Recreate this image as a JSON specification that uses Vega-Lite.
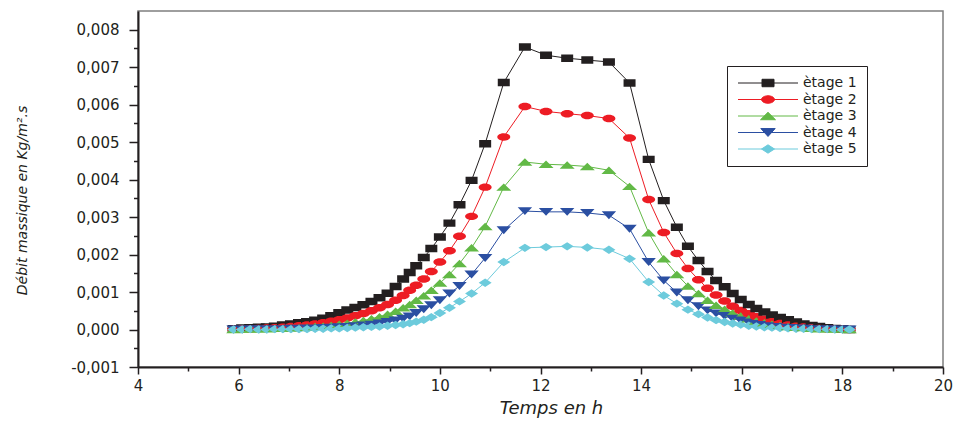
{
  "$schema": "https://vega.github.io/schema/vega-lite/v6.json",
  "width": 805,
  "height": 356,
  "autosize": {"type": "none"},
  "padding": {"left": 138, "top": 11, "right": 13, "bottom": 54},
  "background": "#ffffff",
  "config": {
    "view": {"stroke": "#7f7f7f", "strokeWidth": 1.5},
    "axis": {
      "domainColor": "#231f20", "domainWidth": 2, "tickColor": "#231f20", "tickWidth": 1.5,
      "labelColor": "#231f20", "titleColor": "#231f20", "grid": false,
      "labelFont": "DejaVu Sans", "titleFont": "DejaVu Sans", "titleFontWeight": "normal", "titleFontStyle": "italic"
    }
  },
  "data": {"values": [
    {"t": 5.90, "ètage 1": 0.00002, "ètage 2": 0.00001, "ètage 3": 0, "ètage 4": 0, "ètage 5": 0},
    {"t": 6.07, "ètage 1": 0.00004, "ètage 2": 0.00002, "ètage 3": 0.00001, "ètage 4": 0, "ètage 5": 0},
    {"t": 6.23, "ètage 1": 0.00005, "ètage 2": 0.00002, "ètage 3": 0.00001, "ètage 4": 0.00001, "ètage 5": 0.00001},
    {"t": 6.40, "ètage 1": 0.00006, "ètage 2": 0.00003, "ètage 3": 0.00002, "ètage 4": 0.00001, "ètage 5": 0},
    {"t": 6.56, "ètage 1": 0.00007, "ètage 2": 0.00004, "ètage 3": 0.00002, "ètage 4": 0.00001, "ètage 5": 0},
    {"t": 6.72, "ètage 1": 0.00009, "ètage 2": 0.00005, "ètage 3": 0.00003, "ètage 4": 0.00001, "ètage 5": 0.00001},
    {"t": 6.88, "ètage 1": 0.00012, "ètage 2": 0.00006, "ètage 3": 0.00003, "ètage 4": 0.00001, "ètage 5": 0.00001},
    {"t": 7.04, "ètage 1": 0.00015, "ètage 2": 0.00008, "ètage 3": 0.00004, "ètage 4": 0.00002, "ètage 5": 0.00001},
    {"t": 7.20, "ètage 1": 0.00018, "ètage 2": 0.00010, "ètage 3": 0.00005, "ètage 4": 0.00002, "ètage 5": 0.00001},
    {"t": 7.36, "ètage 1": 0.00021, "ètage 2": 0.00012, "ètage 3": 0.00006, "ètage 4": 0.00003, "ètage 5": 0.00001},
    {"t": 7.52, "ètage 1": 0.00025, "ètage 2": 0.00015, "ètage 3": 0.00008, "ètage 4": 0.00003, "ètage 5": 0.00002},
    {"t": 7.68, "ètage 1": 0.00030, "ètage 2": 0.00018, "ètage 3": 0.00009, "ètage 4": 0.00004, "ètage 5": 0.00002},
    {"t": 7.84, "ètage 1": 0.00037, "ètage 2": 0.00022, "ètage 3": 0.00011, "ètage 4": 0.00005, "ètage 5": 0.00003},
    {"t": 8.00, "ètage 1": 0.00045, "ètage 2": 0.00026, "ètage 3": 0.00014, "ètage 4": 0.00006, "ètage 5": 0.00003},
    {"t": 8.16, "ètage 1": 0.00052, "ètage 2": 0.00031, "ètage 3": 0.00017, "ètage 4": 0.00007, "ètage 5": 0.00004},
    {"t": 8.32, "ètage 1": 0.00059, "ètage 2": 0.00037, "ètage 3": 0.00020, "ètage 4": 0.00009, "ètage 5": 0.00005},
    {"t": 8.48, "ètage 1": 0.00066, "ètage 2": 0.00043, "ètage 3": 0.00024, "ètage 4": 0.00011, "ètage 5": 0.00006},
    {"t": 8.64, "ètage 1": 0.00075, "ètage 2": 0.00050, "ètage 3": 0.00029, "ètage 4": 0.00013, "ètage 5": 0.00007},
    {"t": 8.80, "ètage 1": 0.00085, "ètage 2": 0.00058, "ètage 3": 0.00034, "ètage 4": 0.00016, "ètage 5": 0.00008},
    {"t": 8.96, "ètage 1": 0.00097, "ètage 2": 0.00067, "ètage 3": 0.00041, "ètage 4": 0.00020, "ètage 5": 0.00010},
    {"t": 9.12, "ètage 1": 0.00115, "ètage 2": 0.00078, "ètage 3": 0.00049, "ètage 4": 0.00024, "ètage 5": 0.00012},
    {"t": 9.27, "ètage 1": 0.00135, "ètage 2": 0.00091, "ètage 3": 0.00058, "ètage 4": 0.00029, "ètage 5": 0.00014},
    {"t": 9.40, "ètage 1": 0.00152, "ètage 2": 0.00105, "ètage 3": 0.00067, "ètage 4": 0.00035, "ètage 5": 0.00017},
    {"t": 9.53, "ètage 1": 0.00170, "ètage 2": 0.00118, "ètage 3": 0.00078, "ètage 4": 0.00044, "ètage 5": 0.00021},
    {"t": 9.68, "ètage 1": 0.00192, "ètage 2": 0.00135, "ètage 3": 0.00090, "ètage 4": 0.00054, "ètage 5": 0.00026},
    {"t": 9.83, "ètage 1": 0.00216, "ètage 2": 0.00155, "ètage 3": 0.00105, "ètage 4": 0.00065, "ètage 5": 0.00033},
    {"t": 10.00, "ètage 1": 0.00247, "ètage 2": 0.00180, "ètage 3": 0.00124, "ètage 4": 0.00078, "ètage 5": 0.00044},
    {"t": 10.19, "ètage 1": 0.00284, "ètage 2": 0.00210, "ètage 3": 0.00147, "ètage 4": 0.00096, "ètage 5": 0.00058},
    {"t": 10.39, "ètage 1": 0.00333, "ètage 2": 0.00249, "ètage 3": 0.00176, "ètage 4": 0.00116, "ètage 5": 0.00075},
    {"t": 10.63, "ètage 1": 0.00398, "ètage 2": 0.00302, "ètage 3": 0.00218, "ètage 4": 0.00147, "ètage 5": 0.00096},
    {"t": 10.90, "ètage 1": 0.00496, "ètage 2": 0.00380, "ètage 3": 0.00275, "ètage 4": 0.00191, "ètage 5": 0.00125},
    {"t": 11.27, "ètage 1": 0.00659, "ètage 2": 0.00514, "ètage 3": 0.00380, "ètage 4": 0.00265, "ètage 5": 0.00180},
    {"t": 11.69, "ètage 1": 0.00754, "ètage 2": 0.00595, "ètage 3": 0.00447, "ètage 4": 0.00316, "ètage 5": 0.00218},
    {"t": 12.11, "ètage 1": 0.00732, "ètage 2": 0.00582, "ètage 3": 0.00441, "ètage 4": 0.00314, "ètage 5": 0.00220},
    {"t": 12.53, "ètage 1": 0.00724, "ètage 2": 0.00576, "ètage 3": 0.00439, "ètage 4": 0.00314, "ètage 5": 0.00222},
    {"t": 12.93, "ètage 1": 0.00719, "ètage 2": 0.00571, "ètage 3": 0.00435, "ètage 4": 0.00311, "ètage 5": 0.00219},
    {"t": 13.36, "ètage 1": 0.00714, "ètage 2": 0.00563, "ètage 3": 0.00425, "ètage 4": 0.00305, "ètage 5": 0.00213},
    {"t": 13.77, "ètage 1": 0.00658, "ètage 2": 0.00511, "ètage 3": 0.00382, "ètage 4": 0.00269, "ètage 5": 0.00189},
    {"t": 14.15, "ètage 1": 0.00454, "ètage 2": 0.00347, "ètage 3": 0.00258, "ètage 4": 0.00180, "ètage 5": 0.00127},
    {"t": 14.45, "ètage 1": 0.00344, "ètage 2": 0.00259, "ètage 3": 0.00189, "ètage 4": 0.00131, "ètage 5": 0.00091},
    {"t": 14.71, "ètage 1": 0.00273, "ètage 2": 0.00203, "ètage 3": 0.00147, "ètage 4": 0.00099, "ètage 5": 0.00069},
    {"t": 14.93, "ètage 1": 0.00222, "ètage 2": 0.00163, "ètage 3": 0.00116, "ètage 4": 0.00078, "ètage 5": 0.00053},
    {"t": 15.14, "ètage 1": 0.00184, "ètage 2": 0.00133, "ètage 3": 0.00096, "ètage 4": 0.00062, "ètage 5": 0.00041},
    {"t": 15.32, "ètage 1": 0.00155, "ètage 2": 0.00110, "ètage 3": 0.00078, "ètage 4": 0.00051, "ètage 5": 0.00032},
    {"t": 15.49, "ètage 1": 0.00131, "ètage 2": 0.00092, "ètage 3": 0.00065, "ètage 4": 0.00043, "ètage 5": 0.00025},
    {"t": 15.66, "ètage 1": 0.00114, "ètage 2": 0.00076, "ètage 3": 0.00054, "ètage 4": 0.00036, "ètage 5": 0.00020},
    {"t": 15.82, "ètage 1": 0.00096, "ètage 2": 0.00062, "ètage 3": 0.00044, "ètage 4": 0.00029, "ètage 5": 0.00016},
    {"t": 15.98, "ètage 1": 0.00080, "ètage 2": 0.00051, "ètage 3": 0.00036, "ètage 4": 0.00024, "ètage 5": 0.00013},
    {"t": 16.14, "ètage 1": 0.00067, "ètage 2": 0.00042, "ètage 3": 0.00029, "ètage 4": 0.00019, "ètage 5": 0.00010},
    {"t": 16.29, "ètage 1": 0.00056, "ètage 2": 0.00034, "ètage 3": 0.00023, "ètage 4": 0.00015, "ètage 5": 0.00008},
    {"t": 16.45, "ètage 1": 0.00047, "ètage 2": 0.00027, "ètage 3": 0.00018, "ètage 4": 0.00012, "ètage 5": 0.00006},
    {"t": 16.60, "ètage 1": 0.00039, "ètage 2": 0.00021, "ètage 3": 0.00014, "ètage 4": 0.00009, "ètage 5": 0.00005},
    {"t": 16.76, "ètage 1": 0.00032, "ètage 2": 0.00016, "ètage 3": 0.00011, "ètage 4": 0.00007, "ètage 5": 0.00004},
    {"t": 16.92, "ètage 1": 0.00026, "ètage 2": 0.00012, "ètage 3": 0.00008, "ètage 4": 0.00005, "ètage 5": 0.00003},
    {"t": 17.08, "ètage 1": 0.00020, "ètage 2": 0.00009, "ètage 3": 0.00006, "ètage 4": 0.00004, "ètage 5": 0.00002},
    {"t": 17.23, "ètage 1": 0.00015, "ètage 2": 0.00007, "ètage 3": 0.00005, "ètage 4": 0.00003, "ètage 5": 0.00002},
    {"t": 17.39, "ètage 1": 0.00011, "ètage 2": 0.00005, "ètage 3": 0.00003, "ètage 4": 0.00002, "ètage 5": 0.00001},
    {"t": 17.54, "ètage 1": 0.00008, "ètage 2": 0.00003, "ètage 3": 0.00002, "ètage 4": 0.00001, "ètage 5": 0.00001},
    {"t": 17.70, "ètage 1": 0.00005, "ètage 2": 0.00002, "ètage 3": 0.00002, "ètage 4": 0.00001, "ètage 5": 0.00001},
    {"t": 17.85, "ètage 1": 0.00003, "ètage 2": 0.00002, "ètage 3": 0.00001, "ètage 4": 0.00001, "ètage 5": 0},
    {"t": 18.00, "ètage 1": 0.00002, "ètage 2": 0.00001, "ètage 3": 0.00001, "ètage 4": 0, "ètage 5": 0},
    {"t": 18.14, "ètage 1": 0, "ètage 2": 0, "ètage 3": 0, "ètage 4": 0, "ètage 5": 0}
  ]},
  "transform": [
    {"fold": ["ètage 1", "ètage 2", "ètage 3", "ètage 4", "ètage 5"], "as": ["etage", "v"]}
  ],
  "encoding": {
    "x": {
      "field": "t", "type": "quantitative",
      "scale": {"domain": [4, 20], "nice": false, "zero": false},
      "axis": {
        "values": [4, 5, 6, 7, 8, 9, 10, 11, 12, 13, 14, 15, 16, 17, 18, 19, 20],
        "labelExpr": "datum.value % 2 === 0 ? datum.label : ''",
        "tickSize": {"condition": {"test": "datum.value % 2 === 0", "value": 7}, "value": 4},
        "labelFontSize": 15, "labelPadding": 4, "labelFlush": false,
        "title": "Temps en h", "titleFontSize": 18,
        "titleX": 413, "titleY": 41, "titleBaseline": "middle", "titleAlign": "center"
      }
    },
    "y": {
      "field": "v", "type": "quantitative",
      "scale": {"domain": [-0.001, 0.0085], "nice": false, "zero": false},
      "axis": {
        "values": [-0.001, -0.0005, 0, 0.0005, 0.001, 0.0015, 0.002, 0.0025, 0.003, 0.0035, 0.004, 0.0045, 0.005, 0.0055, 0.006, 0.0065, 0.007, 0.0075, 0.008],
        "labelExpr": "abs(datum.value * 1000 - round(datum.value * 1000)) < 0.01 ? replace(replace(format(datum.value, '.3f'), '.', ','), '−', '-') : ''",
        "tickSize": {"condition": {"test": "abs(datum.value * 1000 - round(datum.value * 1000)) < 0.01", "value": 9}, "value": 4.5},
        "labelFontSize": 15, "labelPadding": 10, "labelFlush": false,
        "title": "Débit massique en Kg/m².s", "titleFontSize": 14,
        "titleX": -116, "titleY": 189, "titleAngle": -90, "titleBaseline": "middle", "titleAlign": "center"
      }
    },
    "color": {
      "field": "etage", "type": "nominal",
      "scale": {"domain": ["ètage 1", "ètage 2", "ètage 3", "ètage 4", "ètage 5"], "range": ["#231f20", "#ed1c24", "#62b946", "#2b4fa2", "#6dcbdc"]},
      "legend": {
        "orient": "none", "legendX": 589, "legendY": 55, "title": null,
        "padding": 10, "strokeColor": "#231f20", "fillColor": "#ffffff", "cornerRadius": 0,
        "symbolSize": 144, "symbolOffset": 24, "symbolStrokeWidth": 1, "rowPadding": 2.5, "labelOffset": 28,
        "labelFont": "DejaVu Sans", "labelFontSize": 14, "labelColor": "#231f20",
        "labelExpr": "datum.label + '     '",
        "encode": {
          "symbols": {
            "stroke": {"value": {"expr": "scale('color', datum.value)"}},
            "strokeWidth": {"value": 1},
            "opacity": {"value": 1}
          }
        }
      }
    }
  },
  "layer": [
    {
      "mark": {"type": "line", "strokeWidth": 1, "opacity": 1},
      "encoding": {}
    },
    {
      "mark": {"type": "point", "filled": true, "size": 144, "opacity": 1, "strokeWidth": 0},
      "encoding": {
        "shape": {
          "field": "etage", "type": "nominal",
          "scale": {
            "domain": ["ètage 1", "ètage 2", "ètage 3", "ètage 4", "ètage 5"],
            "range": [
              "M-5,0H5M-1,-0.62H1V0.62H-1Z",
              "M-5,0H5M-1.08,0A1.08,0.62,0,1,0,1.08,0A1.08,0.62,0,1,0,-1.08,0Z",
              "M-5,0H5M0,-0.62L1.25,0.62H-1.25Z",
              "M-5,0H5M-1.2,-0.66H1.2L0,0.66Z",
              "M-5,0H5M0,-0.7L1.08,0L0,0.7L-1.08,0Z"
            ]
          }
        }
      }
    }
  ]
}
